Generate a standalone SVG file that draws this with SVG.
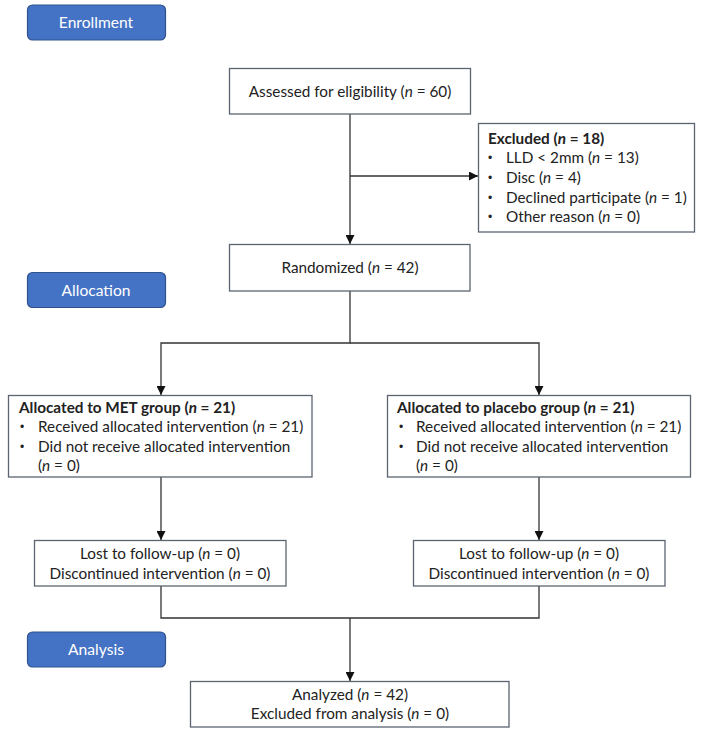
<svg xmlns="http://www.w3.org/2000/svg" width="702" height="735" viewBox="0 0 702 735">
<defs>
<style>
.box{fill:#fff;stroke:#5b6470;stroke-width:1.3}
.btn{fill:#4472c4;stroke:#2f528f;stroke-width:1.2}
.bt{font-family:Lato,"Liberation Sans",sans-serif;font-size:15.6px;fill:#fff;text-anchor:middle}
.t{font-family:Lato,"Liberation Sans",sans-serif;font-size:15.3px;fill:#222}
.d{font-family:"Liberation Sans",sans-serif;font-size:12px;fill:#222}
.c{text-anchor:middle}
.b{font-weight:bold}
.i{font-style:italic}
.ln{fill:none;stroke:#333;stroke-width:1.3}
</style>
<marker id="ah" viewBox="0 0 10 10" refX="10" refY="5" markerWidth="9" markerHeight="9" markerUnits="userSpaceOnUse" orient="auto">
<path d="M0,0 L10,5 L0,10 z" fill="#111"/>
</marker>
</defs>
<rect width="702" height="735" fill="#fff"/>

<g id="connectors">
<path class="ln" d="M350,114 V244" marker-end="url(#ah)"/>
<path class="ln" d="M350,176 H478" marker-end="url(#ah)"/>
<path class="ln" d="M350,291 V343 H161 V395" marker-end="url(#ah)"/>
<path class="ln" d="M350,343 H539 V395" marker-end="url(#ah)"/>
<path class="ln" d="M161,477 V540" marker-end="url(#ah)"/>
<path class="ln" d="M539,477 V540" marker-end="url(#ah)"/>
<path class="ln" d="M161,586 V618 H539 V586"/>
<path class="ln" d="M350,618 V681" marker-end="url(#ah)"/>
</g>

<g id="enrollment">
<rect class="btn" x="27.5" y="5" width="138" height="35" rx="5"/>
<text class="bt" x="96" y="28">Enrollment</text>
</g>
<g id="allocation">
<rect class="btn" x="27.5" y="272.5" width="138" height="35" rx="5"/>
<text class="bt" x="96" y="295.5">Allocation</text>
</g>
<g id="analysis">
<rect class="btn" x="27.5" y="632" width="138" height="35" rx="5"/>
<text class="bt" x="96" y="655">Analysis</text>
</g>

<g id="assessed">
<rect class="box" x="229.5" y="68.5" width="241" height="45.5"/>
<text class="t c" x="350" y="96.5">Assessed for eligibility (<tspan class="i">n</tspan> = 60)</text>
</g>

<g id="excluded">
<rect class="box" x="478.5" y="123.5" width="216" height="108.5"/>
<text class="t b" x="488" y="143.5">Excluded (<tspan class="i">n</tspan> = 18)</text>
<text class="d" x="488" y="162">•</text><text class="t" x="506" y="163">LLD &lt; 2mm (<tspan class="i">n</tspan> = 13)</text>
<text class="d" x="488" y="182">•</text><text class="t" x="506" y="183">Disc (<tspan class="i">n</tspan> = 4)</text>
<text class="d" x="488" y="201.5">•</text><text class="t" x="506" y="202.5">Declined participate (<tspan class="i">n</tspan> = 1)</text>
<text class="d" x="488" y="221">•</text><text class="t" x="506" y="222">Other reason (<tspan class="i">n</tspan> = 0)</text>
</g>

<g id="randomized">
<rect class="box" x="229.5" y="244.5" width="240.5" height="46.5"/>
<text class="t c" x="350" y="272.5">Randomized (<tspan class="i">n</tspan> = 42)</text>
</g>

<g id="met">
<rect class="box" x="8.5" y="395.5" width="303.5" height="81.5"/>
<text class="t b" x="19" y="412.5">Allocated to MET group (<tspan class="i">n</tspan> = 21)</text>
<text class="d" x="20" y="431">•</text><text class="t" x="38" y="432">Received allocated intervention (<tspan class="i">n</tspan> = 21)</text>
<text class="d" x="20" y="450.5">•</text><text class="t" x="38" y="451.5">Did not receive allocated intervention</text>
<text class="t" x="38" y="471">(<tspan class="i">n</tspan> = 0)</text>
</g>

<g id="placebo">
<rect class="box" x="387.5" y="395.5" width="303" height="81.5"/>
<text class="t b" x="397" y="412.5">Allocated to placebo group (<tspan class="i">n</tspan> = 21)</text>
<text class="d" x="399" y="431">•</text><text class="t" x="416" y="432">Received allocated intervention (<tspan class="i">n</tspan> = 21)</text>
<text class="d" x="399" y="450.5">•</text><text class="t" x="416" y="451.5">Did not receive allocated intervention</text>
<text class="t" x="416" y="471">(<tspan class="i">n</tspan> = 0)</text>
</g>

<g id="lost-met">
<rect class="box" x="34.5" y="540.5" width="251.5" height="45.5"/>
<text class="t c" x="160" y="559">Lost to follow-up (<tspan class="i">n</tspan> = 0)</text>
<text class="t c" x="160" y="578.5">Discontinued intervention (<tspan class="i">n</tspan> = 0)</text>
</g>

<g id="lost-placebo">
<rect class="box" x="413.5" y="540.5" width="251.5" height="45.5"/>
<text class="t c" x="539" y="559">Lost to follow-up (<tspan class="i">n</tspan> = 0)</text>
<text class="t c" x="539" y="578.5">Discontinued intervention (<tspan class="i">n</tspan> = 0)</text>
</g>

<g id="analyzed">
<rect class="box" x="190.5" y="681.5" width="318.5" height="45.5"/>
<text class="t c" x="350" y="699.5">Analyzed (<tspan class="i">n</tspan> = 42)</text>
<text class="t c" x="350" y="719">Excluded from analysis (<tspan class="i">n</tspan> = 0)</text>
</g>
</svg>
